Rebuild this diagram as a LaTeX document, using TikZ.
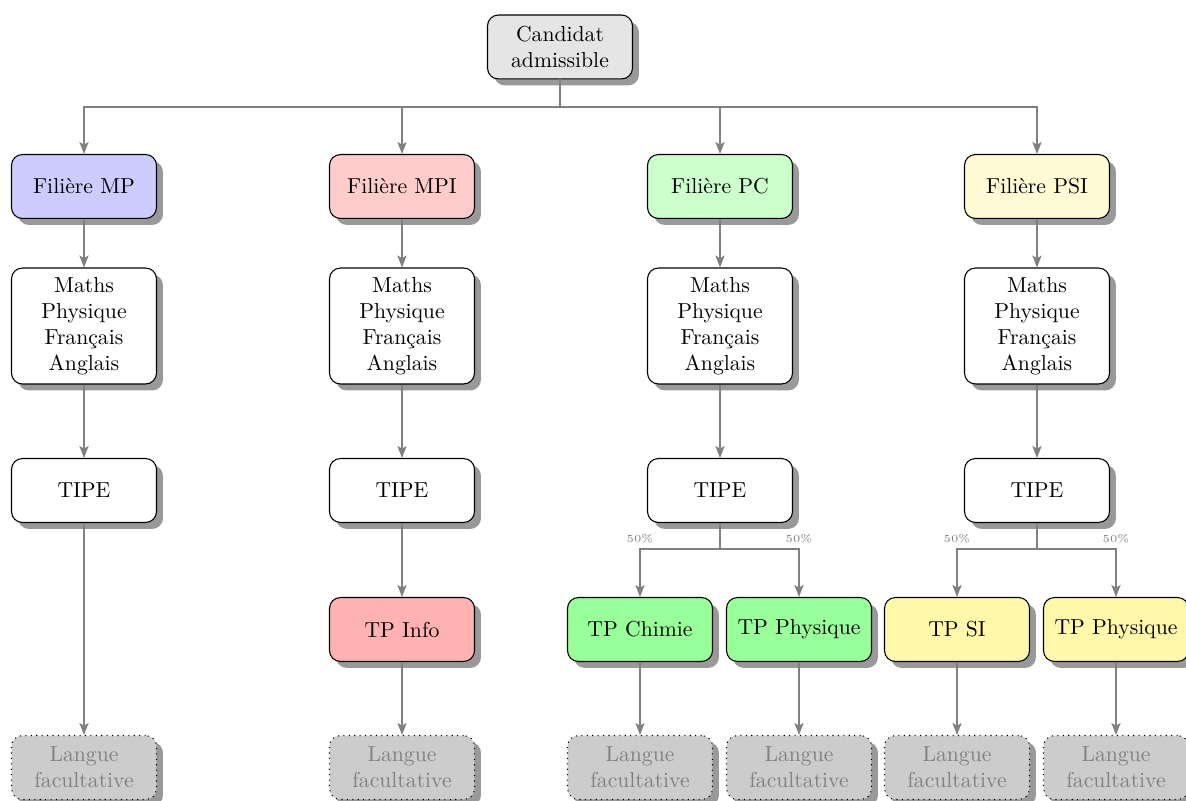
\documentclass[tikz,border=0pt]{standalone}
\usetikzlibrary{shadows,arrows.meta}
\definecolor{psifill}{RGB}{255,250,212}
\definecolor{sifill}{RGB}{255,247,170}
\begin{document}
\begin{tikzpicture}[x=0.4615pt,y=-0.4615pt,
  box/.style={draw=black, rounded corners=5pt, minimum width=66.9pt, minimum height=29.5pt,
    align=center, line width=0.5pt, inner sep=2pt,
    drop shadow={shadow xshift=3pt, shadow yshift=-3pt, fill=black!40, opacity=1}},
  cand/.style={box, fill=black!10},
  mpbox/.style={box, fill=blue!20},
  mpibox/.style={box, fill=red!20},
  pcbox/.style={box, fill=green!20},
  psibox/.style={box, fill=psifill},
  subj/.style={box, fill=white, minimum height=53.5pt},
  tipe/.style={box, fill=white},
  tpinfo/.style={box, fill=red!30},
  tpgreen/.style={box, fill=green!40},
  tpyellow/.style={box, fill=sifill},
  lang/.style={box, fill=black!20, text=black!50, dotted},
  arr/.style={draw=gray, line width=0.9pt, -{Stealth[length=5.5pt,width=4.2pt,inset=1.2pt]}},
  pct/.style={font=\tiny, text=gray, inner sep=1pt}
]
\useasboundingbox (0,0) rectangle (1186,801);

\node[cand] (cand) at (560,47) {Candidat\\admissible};

\node[mpbox]  (mp)  at (84,186.5) {Filière MP};
\node[mpibox] (mpi) at (402,186.5)  {Filière MPI};
\node[pcbox]  (pc)  at (720,186.5) {Filière PC};
\node[psibox] (psi) at (1037,186.5) {Filière PSI};

\node[subj] (smp)  at (84,326)  {Maths\\Physique\\Français\\Anglais};
\node[subj] (smpi) at (402,326)   {Maths\\Physique\\Français\\Anglais};
\node[subj] (spc)  at (720,326) {Maths\\Physique\\Français\\Anglais};
\node[subj] (spsi) at (1037,326)  {Maths\\Physique\\Français\\Anglais};

\node[tipe] (tmp)  at (84,490.5)  {TIPE};
\node[tipe] (tmpi) at (402,490.5)   {TIPE};
\node[tipe] (tpc)  at (720,490.5) {TIPE};
\node[tipe] (tpsi) at (1037,490.5)  {TIPE};

\node[tpinfo]   (info) at (402,629.5)    {TP Info};
\node[tpgreen]  (chim) at (640,629.5)    {TP Chimie};
\node[tpgreen]  (phpc) at (799,629.5)    {TP Physique};
\node[tpyellow] (si)   at (957,629.5)  {TP SI};
\node[tpyellow] (phpsi) at (1116,629.5) {TP Physique};

\node[lang] (l1) at (84,767.5)  {Langue\\facultative};
\node[lang] (l2) at (402,767.5)   {Langue\\facultative};
\node[lang] (l3) at (640,767.5)   {Langue\\facultative};
\node[lang] (l4) at (799,767.5)   {Langue\\facultative};
\node[lang] (l5) at (957,767.5) {Langue\\facultative};
\node[lang] (l6) at (1116,767.5) {Langue\\facultative};

\coordinate (bus) at (0,107);
\coordinate (buspc) at (0,549);

\foreach \f in {mp,mpi,pc,psi}{
  \draw[arr] (cand.south) |- (\f.north|-bus) -- (\f.north);
}
\draw[arr] (mp) -- (smp);
\draw[arr] (mpi) -- (smpi);
\draw[arr] (pc) -- (spc);
\draw[arr] (psi) -- (spsi);
\draw[arr] (smp) -- (tmp);
\draw[arr] (smpi) -- (tmpi);
\draw[arr] (spc) -- (tpc);
\draw[arr] (spsi) -- (tpsi);

\draw[arr] (tmp) -- (l1);
\draw[arr] (tmpi) -- (info);
\draw[arr] (info) -- (l2);

\draw[arr] (tpc.south) |- (chim.north|-buspc) -- (chim.north);
\draw[arr] (tpc.south) |- (phpc.north|-buspc) -- (phpc.north);
\draw[arr] (tpsi.south) |- (si.north|-buspc) -- (si.north);
\draw[arr] (tpsi.south) |- (phpsi.north|-buspc) -- (phpsi.north);

\node[pct, above=1.5pt] (p1) at (chim.north|-buspc) {50\%};
\node[pct, above=1.5pt] (p2) at (phpc.north|-buspc) {50\%};
\node[pct, above=1.5pt] (p3) at (si.north|-buspc) {50\%};
\node[pct, above=1.5pt] (p4) at (phpsi.north|-buspc) {50\%};

\draw[arr] (chim) -- (l3);
\draw[arr] (phpc) -- (l4);
\draw[arr] (si) -- (l5);
\draw[arr] (phpsi) -- (l6);
\end{tikzpicture}
\end{document}
